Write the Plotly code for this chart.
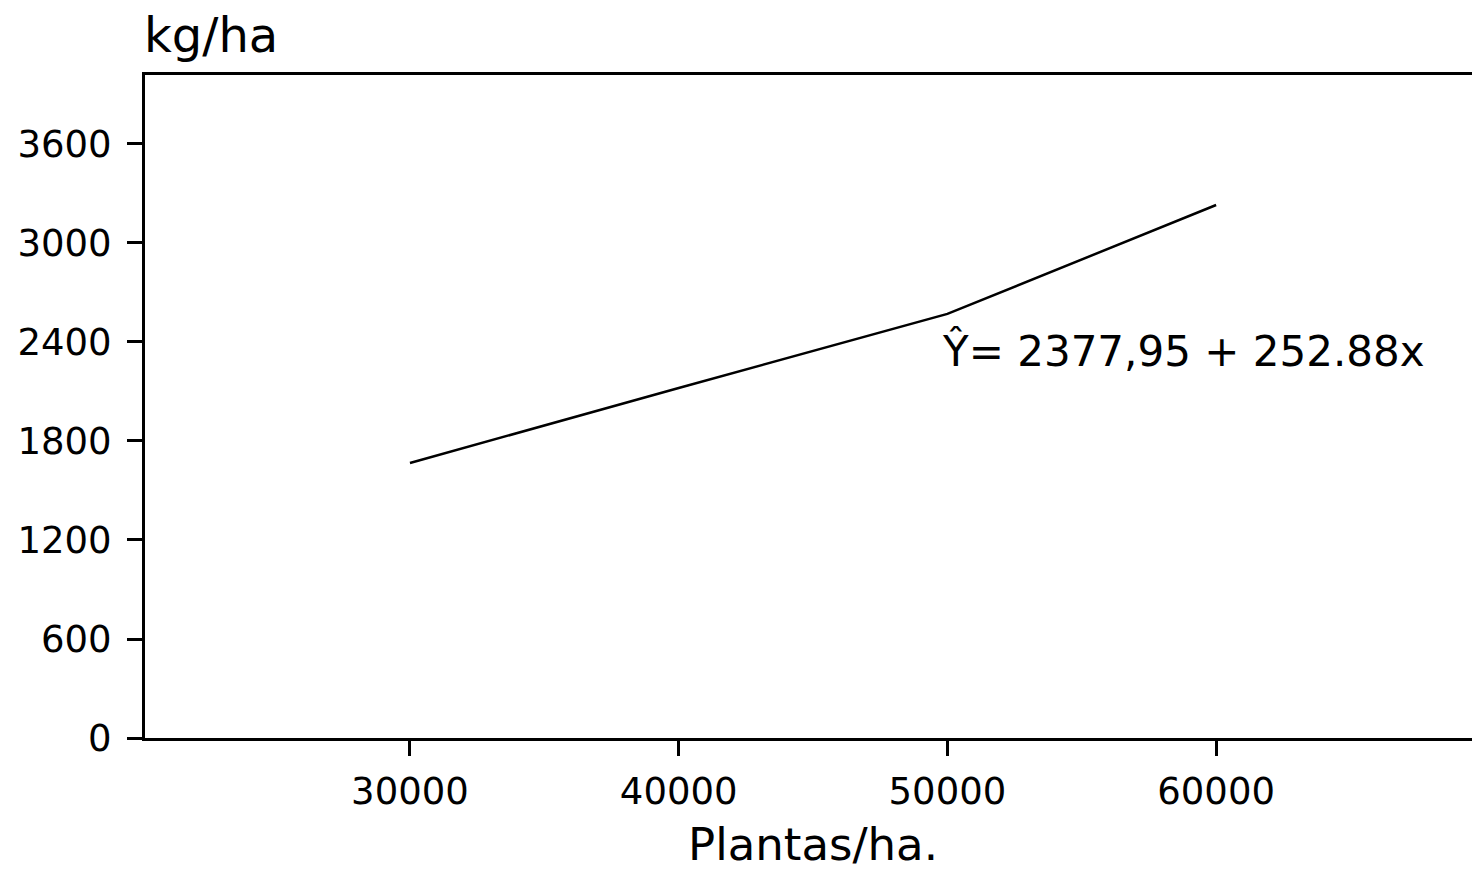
import plotly.graph_objects as go

plantas = [30000, 40000, 50000, 60000]
rendimento = [1667, 2121, 2570, 3230]
x_ticks = [30000, 40000, 50000, 60000]
y_ticks = [0, 600, 1200, 1800, 2400, 3000, 3600]
equation = "Ŷ= 2377,95 + 252.88x"

FONT = "DejaVu Sans"

fig = go.Figure()
fig.add_trace(go.Scatter(
    x=plantas, y=rendimento, mode="lines",
    line=dict(color="black", width=2.5),
    showlegend=False, hoverinfo="skip",
))

fig.update_layout(
    width=1472, height=864,
    margin=dict(l=137, r=0, t=67, b=134),
    paper_bgcolor="white", plot_bgcolor="white",
    font=dict(family=FONT, color="black"),
    xaxis=dict(
        range=[20140, 69820], tickvals=x_ticks,
        ticktext=[str(v) for v in x_ticks],
        showgrid=False, zeroline=False,
        showline=True, linecolor="black", linewidth=3, mirror=True,
        ticks="outside", ticklen=15, tickwidth=3, tickcolor="black",
        tickfont=dict(family=FONT, size=37, color="black"),
        ticklabelstandoff=4,
    ),
    yaxis=dict(
        range=[0, 4018], tickvals=y_ticks,
        ticktext=[str(v) for v in y_ticks],
        showgrid=False, zeroline=False,
        showline=True, linecolor="black", linewidth=3,
        ticks="outside", ticklen=15, tickwidth=3, tickcolor="black",
        tickfont=dict(family=FONT, size=37, color="black"),
        ticklabelstandoff=8,
    ),
    annotations=[
        dict(text="kg/ha", xref="paper", yref="paper",
             x=-0.002, y=1.0, xanchor="left", yanchor="bottom", yshift=10,
             showarrow=False, font=dict(family=FONT, size=48, color="black")),
        dict(text="Plantas/ha.", xref="paper", yref="paper",
             x=(813 - 145) / 1335, y=0, xanchor="center", yanchor="top", yshift=-79,
             borderpad=0,
             showarrow=False, font=dict(family=FONT, size=45, color="black")),
        dict(text=equation, xref="x", yref="y",
             x=49725, y=2345, xanchor="left", yanchor="middle",
             showarrow=False, font=dict(family=FONT, size=42, color="black")),
    ],
)

fig.write_html("out.html")
